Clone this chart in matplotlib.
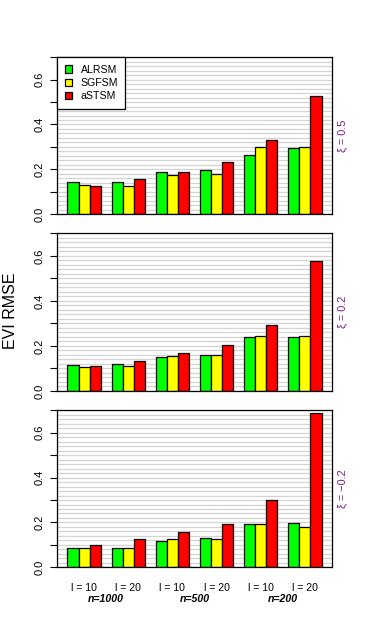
import matplotlib
matplotlib.use("Agg")
import matplotlib.pyplot as plt
import numpy as np
from matplotlib.transforms import blended_transform_factory

plt.rcParams['font.family'] = ['Liberation Sans', 'DejaVu Sans']

methods = ['ALRSM', 'SGFSM', 'aSTSM']
colors = ['#00FF00', '#FFFF00', '#FF0000']
block_labels = ['l = 10', 'l = 20', 'l = 10', 'l = 20', 'l = 10', 'l = 20']
n_labels = ['n=1000', 'n=500', 'n=200']
xi_labels = ['\u03be = 0.5', '\u03be = 0.2', '\u03be = \u22120.2']

# panel 1: xi = 0.5
p1_alrsm = [0.142, 0.142, 0.187, 0.196, 0.263, 0.295]
p1_sgfsm = [0.129, 0.124, 0.174, 0.178, 0.299, 0.299]
p1_astsm = [0.124, 0.156, 0.187, 0.232, 0.330, 0.528]
# panel 2: xi = 0.2
p2_alrsm = [0.114, 0.119, 0.150, 0.159, 0.239, 0.239]
p2_sgfsm = [0.105, 0.110, 0.154, 0.159, 0.243, 0.243]
p2_astsm = [0.110, 0.132, 0.167, 0.203, 0.292, 0.576]
# panel 3: xi = -0.2
p3_alrsm = [0.085, 0.085, 0.116, 0.129, 0.192, 0.196]
p3_sgfsm = [0.085, 0.085, 0.125, 0.125, 0.192, 0.178]
p3_astsm = [0.098, 0.125, 0.156, 0.192, 0.299, 0.686]

panels = [[p1_alrsm, p1_sgfsm, p1_astsm],
          [p2_alrsm, p2_sgfsm, p2_astsm],
          [p3_alrsm, p3_sgfsm, p3_astsm]]

W, H = 380, 625
fig = plt.figure(figsize=(W / 100, H / 100), dpi=100)

left, right = 57.3, 331.7
tops = [57.3, 233.3, 410.3]
bots = [214.0, 391.0, 567.3]

ngroup = len(block_labels)
group_start = 1 + 4 * np.arange(ngroup)

axes = []
for k, vals in enumerate(panels):
    ax = fig.add_axes([left / W, 1 - bots[k] / H, (right - left) / W, (bots[k] - tops[k]) / H])
    axes.append(ax)
    for g in np.arange(0, 0.7001, 0.02):
        ax.axhline(g, color='#d3d3d3', lw=0.9, zorder=0)
    for j, (m, c) in enumerate(zip(methods, colors)):
        ax.bar(group_start + j + 0.5, vals[j], width=1.0, color=c, edgecolor='black',
               linewidth=0.9, label=m, zorder=2)
    ax.set_xlim(0.08, 24.92)
    ax.set_ylim(0, 0.7)
    ax.set_yticks(np.arange(0, 0.71, 0.1))
    ax.set_yticklabels(['0.0', '', '0.2', '', '0.4', '', '0.6', ''])
    ax.tick_params(axis='y', length=5, width=0.8, pad=4, labelsize=8, labelrotation=90)
    for lab in ax.get_yticklabels():
        lab.set_va('center')
    ax.set_xticks([])
    for s in ax.spines.values():
        s.set_linewidth(0.9)
    ax.text(1.041, 0.5, xi_labels[k], transform=ax.transAxes, rotation=90,
            ha='center', va='center', fontsize=7.8, color='#7a1a8a')

# legend in first panel
leg = axes[0].legend(loc='upper left', fontsize=7.6, frameon=True, fancybox=False,
                     edgecolor='black', framealpha=1, borderaxespad=0,
                     handlelength=0.7, handleheight=0.7, handletextpad=0.8,
                     borderpad=0.7, labelspacing=0.32)
leg.get_frame().set_linewidth(0.9)
leg.set_zorder(5)

# bottom labels
ax3 = axes[2]
trans = blended_transform_factory(ax3.transData, ax3.transAxes)
for i, lab in enumerate(block_labels):
    ax3.annotate(lab, xy=(group_start[i] + 1.5, 0), xycoords=trans,
                 xytext=(0, -14.6), textcoords='offset points',
                 ha='center', va='center', fontsize=7.6, annotation_clip=False)
for i, lab in enumerate(n_labels):
    ax3.annotate(lab, xy=((group_start[2 * i] + group_start[2 * i + 1] + 3) / 2, 0), xycoords=trans,
                 xytext=(0, -22.8), textcoords='offset points',
                 ha='center', va='center', fontsize=7.6, fontweight='bold', fontstyle='italic',
                 annotation_clip=False)

fig.text(10.5 / W, 1 - 311 / H, 'EVI RMSE', rotation=90, ha='center', va='center', fontsize=11.5)

fig.savefig('out.png', dpi=100)
